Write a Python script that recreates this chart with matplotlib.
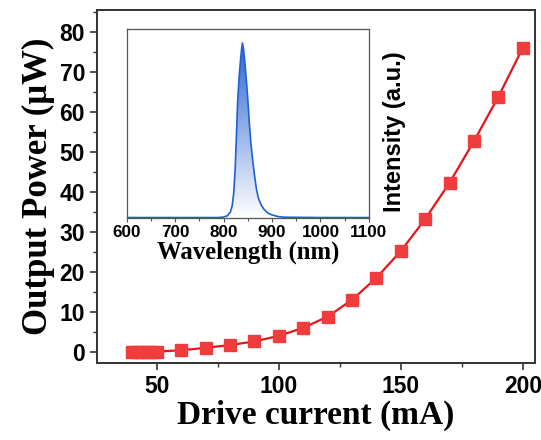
import matplotlib
matplotlib.use("Agg")
import matplotlib.pyplot as plt
import numpy as np
from matplotlib.ticker import MultipleLocator

# Output power vs drive current
current_ma = [40, 42, 44, 46, 48, 50, 60, 70, 80, 90, 100, 110, 120, 130, 140,
              150, 160, 170, 180, 190, 200]
power_uw = [0.0, 0.0, 0.0, 0.0, 0.0, 0.05, 0.4, 1.0, 1.7, 2.6, 4.0, 6.0, 8.8,
            13.0, 18.5, 25.2, 33.2, 42.3, 52.7, 63.8, 76.0]

# Inset EL spectrum (normalized)
wavelength_nm = [600, 700, 790, 800, 808, 814, 818, 821, 824, 827, 829, 832,
                 835, 837, 839, 841, 844, 847, 850, 853, 856, 860, 864, 868,
                 872, 878, 884, 892, 900, 912, 925, 1000, 1100]
intensity = [0.0, 0.0, 0.0, 0.003, 0.01, 0.03, 0.07, 0.14, 0.28, 0.50, 0.66,
             0.80, 0.90, 0.96, 1.0, 0.97, 0.89, 0.79, 0.68, 0.55, 0.44, 0.33,
             0.24, 0.16, 0.11, 0.07, 0.045, 0.025, 0.015, 0.006, 0.002, 0.0, 0.0]

RED_LINE = "#e5151d"
RED_MARK = "#f03c3c"
BLUE = "#1f62d4"
SPINE = "#333333"

SERIF = ["Liberation Serif", "DejaVu Serif"]
SANS = ["Liberation Sans", "DejaVu Sans"]

fig = plt.figure(figsize=(5.41, 4.40), dpi=100)
ax = fig.add_axes([0.179, 0.174, 0.810, 0.803])

ax.plot(current_ma, power_uw, color=RED_LINE, linewidth=1.6, marker="s",
        markersize=9, markerfacecolor=RED_MARK, markeredgecolor=RED_MARK, zorder=3)
ax.set_xlim(25.4, 205)
ax.set_ylim(-2.9, 85.4)
ax.xaxis.set_major_locator(MultipleLocator(50))
ax.xaxis.set_minor_locator(MultipleLocator(25))
ax.yaxis.set_major_locator(MultipleLocator(10))
ax.yaxis.set_minor_locator(MultipleLocator(5))
ax.tick_params(which="major", direction="out", length=5, width=1.2, color=SPINE, pad=3.5)
ax.tick_params(which="minor", direction="out", length=3, width=1.0, color=SPINE)
for lab in ax.get_xticklabels() + ax.get_yticklabels():
    lab.set_fontfamily(SANS)
    lab.set_fontweight("bold")
    lab.set_fontsize(16.5)
for s in ax.spines.values():
    s.set_linewidth(1.4)
    s.set_color(SPINE)
ax.set_xlabel("Drive current (mA)", fontfamily=SERIF, fontweight="bold",
              fontsize=24, labelpad=1)
ax.set_ylabel("Output Power (\u03bcW)", fontfamily=SERIF, fontweight="bold",
              fontsize=25, labelpad=3)

# Inset
axi = fig.add_axes([0.234, 0.504, 0.448, 0.430])
wl = np.array(wavelength_nm)
it = np.array(intensity)
axi.set_xlim(600, 1100)
axi.set_ylim(-0.004, 1.08)
poly = axi.fill_between(wl, 0, it, color="none")
grad = np.linspace(0, 1, 256).reshape(-1, 1)
cmap = matplotlib.colors.LinearSegmentedColormap.from_list("g", ["#ffffff", "#2a66d2"])
img = axi.imshow(grad, cmap=cmap, origin="lower", aspect="auto",
                 extent=[600, 1100, 0, 1.0], zorder=1)
path = poly.get_paths()[0]
img.set_clip_path(path, transform=axi.transData)
axi.plot(wl, it, color=BLUE, linewidth=1.2, zorder=2)
axi.set_xlim(600, 1100)
axi.set_ylim(-0.004, 1.08)
axi.xaxis.set_major_locator(MultipleLocator(100))
axi.xaxis.set_minor_locator(MultipleLocator(50))
axi.set_yticks([])
axi.tick_params(which="major", direction="out", length=3, width=0.8, color="#555555", pad=2)
axi.tick_params(which="minor", direction="out", length=2, width=0.8, color="#555555")
for lab in axi.get_xticklabels():
    lab.set_fontfamily(SANS)
    lab.set_fontweight("bold")
    lab.set_fontsize(12.3)
for s in axi.spines.values():
    s.set_linewidth(0.9)
    s.set_color("#555555")
axi.set_xlabel("Wavelength (nm)", fontfamily=SERIF, fontweight="bold",
               fontsize=17.8, labelpad=0)
axi.yaxis.set_label_position("right")
axi.set_ylabel("Intensity (a.u.)", fontfamily=SANS, fontweight="bold",
               fontsize=17)
axi.yaxis.set_label_coords(1.056, 0.455)

fig.savefig("out.png", dpi=100)
